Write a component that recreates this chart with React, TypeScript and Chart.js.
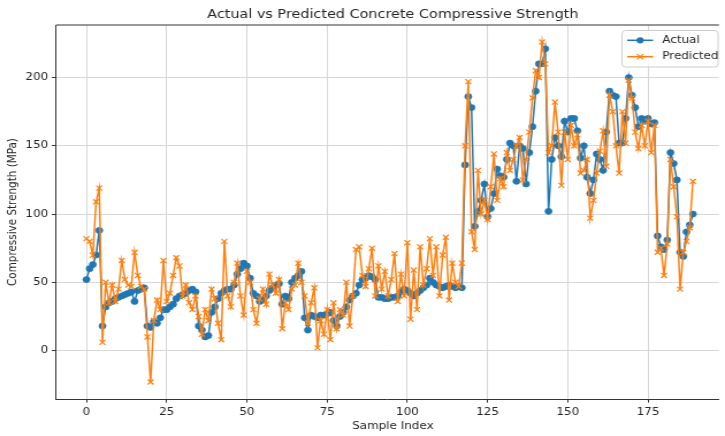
import React, { useEffect, useRef } from "react";
import { Chart, registerables } from "chart.js";

Chart.register(...registerables);

// ---- data -------------------------------------------------------------
const actualStrength: number[] = [
  52, 60, 63, 70, 88, 18, 32, 35, 36, 38, 39, 40, 41, 42, 43, 36, 44, 45, 46, 18, 17, 21, 20, 24, 30,
  30, 32, 34, 38, 40, 41, 42, 44, 45, 43, 18, 15, 10, 11, 28, 32, 38, 42, 44, 45, 45, 48, 56, 60, 64, 62,
  53, 42, 40, 36, 37, 40, 44, 46, 48, 49,
  34, 40, 38, 50, 53, 55, 58, 24, 15, 26, 25, 24, 26, 26,
  27, 28, 22, 18, 25, 28, 32, 37, 40, 42, 48, 52, 53, 55, 54, 52, 39, 39, 38, 38, 39, 39, 40, 43, 45,
  44, 42, 40, 42, 44, 46, 48, 53, 50, 48, 47, 46, 47, 48, 47, 46, 47, 46, 136, 186, 178, 91, 102, 110, 122, 98, 104, 115, 133, 128,
  127, 140, 152, 150, 124, 150, 148, 122, 145, 164, 190, 210, 210, 221, 102, 140, 156, 150, 142, 168,
  160, 170, 170, 161, 141, 150, 127, 115, 125, 144, 140, 132, 160, 190, 187, 186, 152, 152, 170, 200, 187, 178, 164, 170,
  168, 170, 166, 167, 84, 76, 74, 81, 145, 137, 125, 72, 69, 87, 92, 100,
];

const predictedStrength: number[] = [
  82, 80, 70, 109, 119, 6, 50, 35, 48, 36, 45, 66, 52, 48, 47, 72, 55, 47, 45, 10, -23, 22, 37, 30, 66,
  36, 42, 55, 68, 62, 40, 48, 35, 30, 40, 25, 12, 30, 22, 45, 38, 20, 8, 80, 40, 32, 50, 64, 40, 26, 58,
  50, 30, 20, 38, 45, 34, 56, 48, 42, 52,
  16, 35, 30, 45, 48, 64, 50, 40, 20, 35, 46, 2, 22, 12,
  30, 8, 35, 16, 30, 26, 50, 18, 40, 74, 76, 55, 47, 60, 75, 40, 62, 45, 58, 40, 52, 71, 36, 56, 40,
  79, 23, 59, 30, 76, 48, 60, 82, 55, 76, 40, 70, 83, 37, 64, 50, 47, 64, 150, 197, 87, 74, 132, 100, 110, 96, 120, 144, 110, 126,
  120, 145, 132, 140, 150, 156, 125, 140, 160, 185, 205, 200, 226, 210, 145, 150, 182, 160, 121, 160,
  140, 165, 150, 158, 130, 132, 140, 97, 110, 130, 146, 161, 135, 187, 175, 150, 130, 175, 152, 198, 185, 160, 148, 165,
  150, 168, 145, 165, 72, 75, 55, 78, 140, 120, 98, 45, 72, 80, 90, 124,
];

const xTickValues = [0, 25, 50, 75, 100, 125, 150, 175];
const yTickValues = [0, 50, 100, 150, 200];
const seriesNames = ["Actual", "Predicted"];
const chartTitle = "Actual vs Predicted Concrete Compressive Strength";
const xAxisTitle = "Sample Index";
const yAxisTitle = "Compressive Strength (MPa)";

// ---- styling ----------------------------------------------------------
const BLUE = "#1f77b4";
const ORANGE = "#ff7f0e";
const TEXT = "#262626";
const FRAME = "#333333";
const GRID = "#d2d2d2";
const FONT = '"DejaVu Sans", sans-serif';
const W = 630;
const H = 436;
const STRETCH = 725 / W;

const toPoints = (vals: number[]) => vals.map((y, x) => ({ x, y }));

// Title, axis titles, top spine and legend
const decorations = {
  id: "decorations",
  afterDraw(chart: any) {
    const { ctx, chartArea } = chart;
    const { left, right, top, bottom } = chartArea;
    const axesCenterX = (left + 634) / 2;
    ctx.save();

    // top spine
    ctx.strokeStyle = FRAME;
    ctx.lineWidth = 1;
    ctx.beginPath();
    ctx.moveTo(left, top);
    ctx.lineTo(right, top);
    ctx.stroke();

    ctx.fillStyle = TEXT;
    ctx.textAlign = "center";
    ctx.textBaseline = "middle";

    ctx.font = `12.5px ${FONT}`;
    ctx.fillText(chartTitle, axesCenterX, 14.5);

    ctx.font = `10.4px ${FONT}`;
    ctx.fillText(xAxisTitle, axesCenterX, 426);

    ctx.save();
    ctx.translate(11.6, (top + bottom) / 2);
    ctx.rotate(-Math.PI / 2);
    ctx.fillText(yAxisTitle, 0, 0);
    ctx.restore();

    // legend
    const bx = 540.5, by = 30.5, bw = 83.5, bh = 36.5, r = 3;
    ctx.beginPath();
    ctx.moveTo(bx + r, by);
    ctx.lineTo(bx + bw - r, by);
    ctx.quadraticCurveTo(bx + bw, by, bx + bw, by + r);
    ctx.lineTo(bx + bw, by + bh - r);
    ctx.quadraticCurveTo(bx + bw, by + bh, bx + bw - r, by + bh);
    ctx.lineTo(bx + r, by + bh);
    ctx.quadraticCurveTo(bx, by + bh, bx, by + bh - r);
    ctx.lineTo(bx, by + r);
    ctx.quadraticCurveTo(bx, by, bx + r, by);
    ctx.closePath();
    ctx.fillStyle = "rgba(255,255,255,0.8)";
    ctx.fill();
    ctx.strokeStyle = "#cccccc";
    ctx.lineWidth = 1;
    ctx.stroke();

    const rows = [
      { name: seriesNames[0], color: BLUE, y: 40.3, marker: "circle" },
      { name: seriesNames[1], color: ORANGE, y: 56.7, marker: "x" },
    ];
    const hx0 = 545, hx1 = 567.5, mx = (hx0 + hx1) / 2;
    rows.forEach((row) => {
      ctx.strokeStyle = row.color;
      ctx.lineWidth = 1.5;
      ctx.beginPath();
      ctx.moveTo(hx0, row.y);
      ctx.lineTo(hx1, row.y);
      ctx.stroke();
      if (row.marker === "circle") {
        ctx.fillStyle = row.color;
        ctx.beginPath();
        ctx.arc(mx, row.y, 3.1, 0, Math.PI * 2);
        ctx.fill();
      } else {
        const d = 2.6;
        ctx.lineWidth = 1.2;
        ctx.beginPath();
        ctx.moveTo(mx - d, row.y - d);
        ctx.lineTo(mx + d, row.y + d);
        ctx.moveTo(mx - d, row.y + d);
        ctx.lineTo(mx + d, row.y - d);
        ctx.stroke();
      }
      ctx.fillStyle = TEXT;
      ctx.textAlign = "left";
      ctx.textBaseline = "middle";
      ctx.font = `10.4px ${FONT}`;
      ctx.fillText(row.name, 575.5, row.y);
    });

    ctx.restore();
  },
};

const tickFont = { family: FONT, size: 10.4 };

export default function App() {
  const canvasRef = useRef<HTMLCanvasElement | null>(null);

  useEffect(() => {
    if (!canvasRef.current) return;
    const chart = new Chart(canvasRef.current, {
      type: "line",
      data: {
        datasets: [
          {
            label: seriesNames[0],
            data: toPoints(actualStrength),
            borderColor: BLUE,
            backgroundColor: BLUE,
            borderWidth: 1.5,
            pointStyle: "circle",
            pointRadius: 3.1,
            pointBackgroundColor: BLUE,
            pointBorderColor: BLUE,
            pointBorderWidth: 0.5,
            tension: 0,
            order: 2,
          },
          {
            label: seriesNames[1],
            data: toPoints(predictedStrength),
            borderColor: ORANGE,
            backgroundColor: ORANGE,
            borderWidth: 1.5,
            pointStyle: "crossRot",
            pointRadius: 3.6,
            pointBackgroundColor: ORANGE,
            pointBorderColor: ORANGE,
            pointBorderWidth: 1.2,
            tension: 0,
            order: 1,
          },
        ],
      },
      options: {
        animation: false,
        responsive: true,
        maintainAspectRatio: false,
        events: [],
        layout: { padding: { top: 25, right: 0, bottom: 0, left: 0 } },
        plugins: {
          legend: { display: false },
          title: { display: false },
          tooltip: { enabled: false },
        },
        scales: {
          x: {
            type: "linear",
            min: -9.45,
            max: 197.13,
            afterBuildTicks: (axis: any) => {
              axis.ticks = xTickValues.map((value) => ({ value }));
            },
            afterFit: (axis: any) => {
              axis.height = 37;
            },
            ticks: {
              font: tickFont,
              color: TEXT,
              padding: 3.2,
              maxRotation: 0,
              autoSkip: false,
              callback: (v: any) => String(v),
            },
            grid: {
              color: GRID,
              lineWidth: 0.9,
              drawTicks: true,
              tickLength: 3.6,
              tickColor: FRAME,
              tickWidth: 1,
            },
            border: { display: true, color: FRAME, width: 1 },
          },
          y: {
            type: "linear",
            min: -35.45,
            max: 238.45,
            afterBuildTicks: (axis: any) => {
              axis.ticks = yTickValues.map((value) => ({ value }));
            },
            afterFit: (axis: any) => {
              axis.width = 48.75;
            },
            ticks: {
              font: tickFont,
              color: TEXT,
              padding: 3.2,
              autoSkip: false,
              callback: (v: any) => String(v),
            },
            grid: {
              color: GRID,
              lineWidth: 0.9,
              drawTicks: true,
              tickLength: 3.6,
              tickColor: FRAME,
              tickWidth: 1,
            },
            border: { display: true, color: FRAME, width: 1 },
          },
        },
      },
      plugins: [decorations],
    } as any);
    return () => chart.destroy();
  }, []);

  return (
    <div
      style={{
        position: "fixed",
        left: 0,
        top: 0,
        width: 725,
        height: H,
        overflow: "hidden",
        background: "#ffffff",
      }}
    >
      <div
        style={{
          position: "relative",
          width: W,
          height: H,
          transform: `scaleX(${STRETCH})`,
          transformOrigin: "0 0",
        }}
      >
        <canvas ref={canvasRef} />
      </div>
    </div>
  );
}
